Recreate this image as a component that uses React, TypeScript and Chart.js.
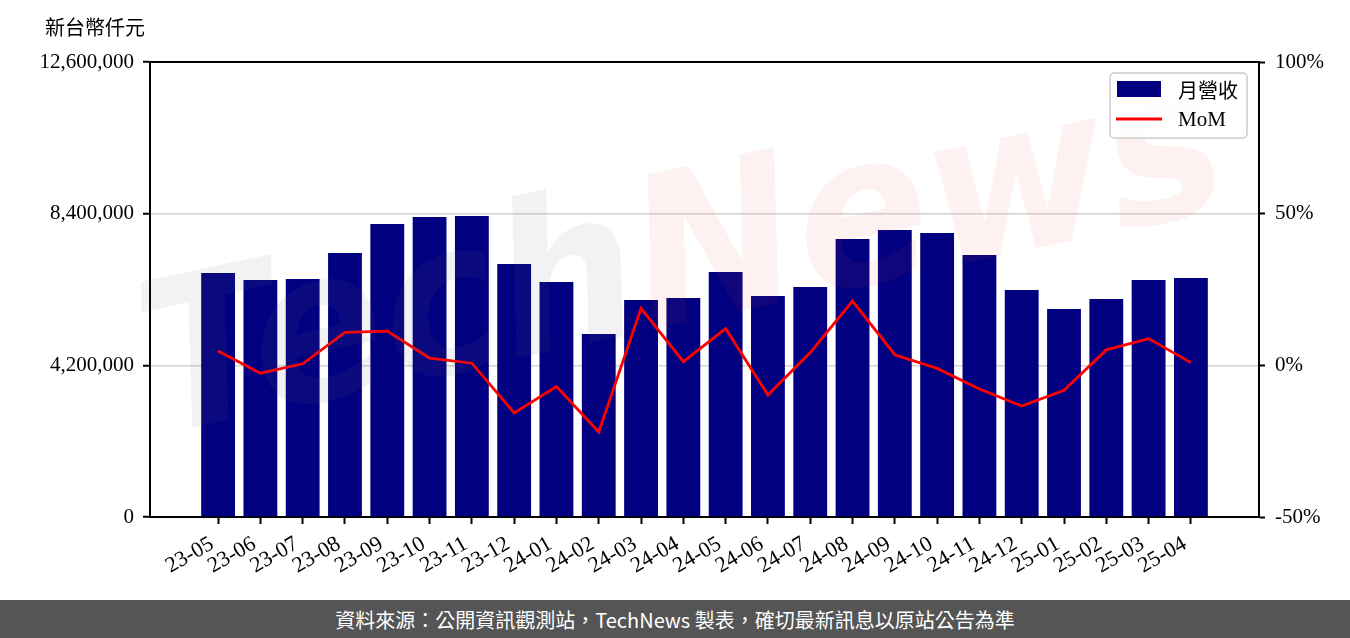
import React, { useEffect, useRef } from "react";
import { Chart, registerables } from "chart.js";

Chart.register(...registerables);

const months = [
  "23-05", "23-06", "23-07", "23-08", "23-09", "23-10", "23-11", "23-12",
  "24-01", "24-02", "24-03", "24-04", "24-05", "24-06", "24-07", "24-08",
  "24-09", "24-10", "24-11", "24-12", "25-01", "25-02", "25-03", "25-04",
];

const revenue = [
  6757000, 6563000, 6590000, 7310000, 8114000, 8310000, 8335000, 7006000,
  6508000, 5068000, 6009000, 6065000, 6785000, 6120000, 6369000, 7698000,
  7948000, 7865000, 7255000, 6286000, 5760000, 6037000, 6563000, 6618000,
];

const mom = [
  4.7, -2.6, 0.5, 10.9, 11.3, 2.4, 0.7, -15.7,
  -7.0, -22.0, 18.8, 1.2, 12.1, -9.8, 4.2, 21.2,
  3.5, -1.0, -7.8, -13.4, -8.2, 5.1, 8.8, 0.9,
];

const leftTicks = [0, 4200000, 8400000, 12600000];
const rightTicks = [-50, 0, 50, 100];

const BAR_COLOR = "#000080";
const LINE_COLOR = "#ff0000";
const SERIF = "'Liberation Serif', 'Times New Roman', serif";
const CJK = "'Noto Sans CJK TC', 'Noto Sans', sans-serif";

const fmt = (v: number) => v.toLocaleString("en-US");

export default function App() {
  const ref = useRef<HTMLCanvasElement | null>(null);

  useEffect(() => {
    document.body.style.margin = "0";
    const canvas = ref.current;
    if (!canvas) return;

    const decor = {
      id: "decor",
      afterDatasetsDraw(chart: any) {
        const { ctx, chartArea } = chart;
        // faint watermark
        ctx.save();
        ctx.beginPath();
        ctx.rect(chartArea.left - 30, chartArea.top, chartArea.right - chartArea.left + 30, chartArea.bottom - chartArea.top);
        ctx.clip();
        ctx.translate(chartArea.left + 535, chartArea.top + 205);
        ctx.rotate((-12 * Math.PI) / 180);
        ctx.font = "italic bold 210px 'DejaVu Sans', sans-serif";
        ctx.textBaseline = "middle";
        ctx.textAlign = "left";
        const wTech = ctx.measureText("Tech").width;
        const wNews = ctx.measureText("News").width;
        const total = wTech + wNews;
        const s = 1100 / total;
        ctx.scale(s, 1);
        ctx.fillStyle = "rgba(110,110,110,0.09)";
        ctx.fillText("Tech", -total / 2, 0);
        ctx.fillStyle = "rgba(225,70,70,0.075)";
        ctx.fillText("News", -total / 2 + wTech, 0);
        ctx.restore();
      },
      afterDraw(chart: any) {
        const { ctx, chartArea } = chart;
        ctx.save();
        // top spine
        ctx.strokeStyle = "#000";
        ctx.lineWidth = 2;
        ctx.beginPath();
        ctx.moveTo(chartArea.left - 1, chartArea.top);
        ctx.lineTo(chartArea.right + 1, chartArea.top);
        ctx.stroke();

        // axis unit title
        ctx.fillStyle = "#000";
        ctx.font = `20px ${CJK}`;
        ctx.textAlign = "left";
        ctx.textBaseline = "middle";
        ctx.fillText("新台幣仟元", chartArea.left - 105, 27);

        // legend
        const bx = chartArea.right - 149;
        const by = chartArea.top + 11;
        const bw = 137;
        const bh = 65;
        ctx.beginPath();
        if ((ctx as any).roundRect) (ctx as any).roundRect(bx, by, bw, bh, 4);
        else ctx.rect(bx, by, bw, bh);
        ctx.fillStyle = "rgba(255,255,255,0.85)";
        ctx.fill();
        ctx.strokeStyle = "#cccccc";
        ctx.lineWidth = 1.5;
        ctx.stroke();

        ctx.fillStyle = BAR_COLOR;
        ctx.fillRect(bx + 7, by + 8, 44, 16);
        ctx.strokeStyle = LINE_COLOR;
        ctx.lineWidth = 3;
        ctx.beginPath();
        ctx.moveTo(bx + 6, by + 46);
        ctx.lineTo(bx + 52, by + 46);
        ctx.stroke();

        ctx.fillStyle = "#000";
        ctx.textAlign = "left";
        ctx.textBaseline = "middle";
        ctx.font = `20px ${CJK}`;
        ctx.fillText("月營收", bx + 68, by + 17);
        ctx.font = `21px ${SERIF}`;
        ctx.fillText("MoM", bx + 68, by + 47);
        ctx.restore();
      },
    };

    const chart = new Chart(canvas, {
      type: "bar",
      data: {
        datasets: [
          {
            type: "line",
            label: "MoM",
            data: mom.map((v, i) => ({ x: i, y: v })),
            yAxisID: "y1",
            borderColor: LINE_COLOR,
            backgroundColor: LINE_COLOR,
            borderWidth: 2.8,
            pointRadius: 0,
            tension: 0,
            order: 0,
          } as any,
          {
            type: "bar",
            label: "月營收",
            data: revenue.map((v, i) => ({ x: i, y: v })),
            yAxisID: "y",
            backgroundColor: BAR_COLOR,
            borderWidth: 0,
            categoryPercentage: 1,
            barPercentage: 0.8,
            order: 1,
          } as any,
        ],
      },
      options: {
        responsive: false,
        animation: false,
        layout: { padding: { top: 62, left: 0, right: 0, bottom: 0 } },
        plugins: {
          legend: { display: false },
          tooltip: { enabled: false },
          title: { display: false },
        },
        scales: {
          x: {
            type: "linear",
            offset: false,
            min: -1.61,
            max: months.length - 1 + 1.61,
            afterBuildTicks: (scale: any) => {
              scale.ticks = months.map((_, i) => ({ value: i }));
            },
            afterFit: (scale: any) => {
              scale.height = 83;
            },
            ticks: {
              autoSkip: false,
              minRotation: 30,
              maxRotation: 30,
              padding: 7,
              labelOffset: -6,
              color: "#000",
              font: { family: SERIF, size: 22 },
              callback: (v: any) => months[Math.round(Number(v))] ?? "",
            },
            grid: {
              offset: false,
              drawOnChartArea: false,
              tickLength: 7,
              tickColor: "#000",
              tickWidth: 2,
            },
            border: { color: "#000", width: 2 },
          },
          y: {
            type: "linear",
            position: "left",
            min: 0,
            max: 12600000,
            afterBuildTicks: (scale: any) => {
              scale.ticks = leftTicks.map((v) => ({ value: v }));
            },
            afterFit: (scale: any) => {
              scale.width = 150;
            },
            ticks: {
              padding: 9,
              color: "#000",
              font: { family: SERIF, size: 21 },
              callback: (v: any) => fmt(Number(v)),
            },
            grid: {
              color: "#d4d4d4",
              lineWidth: 1.5,
              tickLength: 7,
              tickColor: "#000",
              tickWidth: 2,
            },
            border: { color: "#000", width: 2 },
          },
          y1: {
            type: "linear",
            position: "right",
            min: -50,
            max: 100,
            afterBuildTicks: (scale: any) => {
              scale.ticks = rightTicks.map((v) => ({ value: v }));
            },
            afterFit: (scale: any) => {
              scale.width = 91;
            },
            ticks: {
              padding: 10,
              color: "#000",
              font: { family: SERIF, size: 21 },
              callback: (v: any) => `${v}%`,
            },
            grid: {
              drawOnChartArea: false,
              tickLength: 6,
              tickColor: "#000",
              tickWidth: 2,
            },
            border: { color: "#000", width: 2 },
          },
        },
      } as any,
      plugins: [decor],
    });

    return () => chart.destroy();
  }, []);

  return (
    <div style={{ width: 1350, height: 638, position: "relative", background: "#fff" }}>
      <canvas ref={ref} width={1350} height={600} style={{ display: "block", width: 1350, height: 600 }} />
      <div
        style={{
          height: 38,
          width: 1350,
          background: "#555555",
          color: "#ffffff",
          display: "flex",
          alignItems: "center",
          justifyContent: "center",
          fontFamily: CJK,
          fontSize: 20,
        }}
      >
        資料來源：公開資訊觀測站，TechNews 製表，確切最新訊息以原站公告為準
      </div>
    </div>
  );
}
